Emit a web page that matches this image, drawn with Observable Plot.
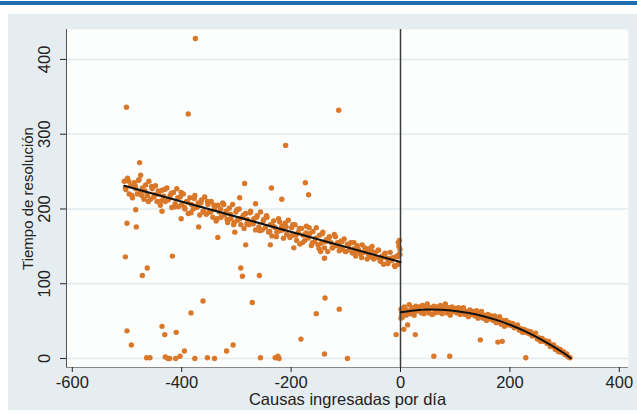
<!DOCTYPE html>
<html>
<head>
<meta charset="utf-8">
<script src="https://cdn.jsdelivr.net/npm/d3@7"></script>
<script src="https://cdn.jsdelivr.net/npm/@observablehq/plot@0.6"></script>
<style>
  html, body { margin: 0; padding: 0; background: #ffffff; }
  body { width: 637px; height: 414px; position: relative; overflow: hidden; font-family: "Liberation Sans", Arial, sans-serif; }
  #topbar { position: absolute; left: 0; top: 1px; width: 637px; height: 4px; background: #1d6db0; }
  #chart { position: absolute; left: 8px; top: 14px; }
  #chart g[aria-label="y-axis label"] text { font-size: 15px; }
</style>
</head>
<body>
<div id="topbar"></div>
<div id="chart"></div>
<script>
// ---- data ----
const xTicks = [-600, -400, -200, 0, 200, 400];
const yTicks = [0, 100, 200, 300, 400];
const xDomain = [-610.6, 416.8];
const yDomain = [-12, 440];
const xTitle = "Causas ingresadas por día";
const yTitle = "Tiempo de resolución";

// dense band left of the cutoff
const leftBand = [
[-505,237],[-502,226],[-499,241],[-496,220],[-493,231],[-490,215],[-487,235],[-484,227],[-481,220],[-478,239],
[-475,223],[-472,228],[-469,213],[-466,232],[-463,218],[-460,237],[-457,213],[-454,227],[-451,216],[-448,231],
[-445,210],[-442,220],[-439,205],[-436,225],[-433,217],[-430,210],[-427,228],[-424,213],[-421,218],[-418,202],
[-415,222],[-412,207],[-409,227],[-406,203],[-403,216],[-400,206],[-397,220],[-394,200],[-391,210],[-388,194],
[-385,215],[-382,206],[-379,200],[-376,218],[-373,202],[-370,208],[-367,192],[-364,212],[-361,197],[-358,216],
[-355,193],[-352,206],[-349,196],[-346,210],[-343,189],[-340,200],[-337,184],[-334,205],[-331,196],[-328,189],
[-325,208],[-322,192],[-319,197],[-316,182],[-313,201],[-310,187],[-307,206],[-304,182],[-301,196],[-298,185],
[-295,200],[-292,179],[-289,189],[-286,174],[-283,194],[-280,186],[-277,179],[-274,197],[-271,182],[-268,187],
[-265,172],[-262,191],[-259,176],[-256,196],[-253,172],[-250,186],[-247,175],[-244,189],[-241,169],[-238,179],
[-235,164],[-232,184],[-229,175],[-226,169],[-223,187],[-220,171],[-217,177],[-214,161],[-211,181],[-208,166],
[-205,185],[-202,162],[-199,175],[-196,165],[-193,179],[-190,158],[-187,169],[-184,153],[-181,174],[-178,165],
[-175,158],[-172,177],[-169,161],[-166,167],[-163,151],[-160,170],[-157,156],[-154,175],[-151,152],[-148,165],
[-145,154],[-142,169],[-139,148],[-136,159],[-133,143],[-130,163],[-127,155],[-124,148],[-121,166],[-118,151],
[-115,155],[-112,144],[-109,157],[-106,146],[-103,160],[-100,143],[-97,153],[-94,145],[-91,155],[-88,141],
[-85,147],[-82,137],[-79,151],[-76,144],[-73,140],[-70,152],[-67,142],[-64,145],[-61,133],[-58,147],
[-55,136],[-52,150],[-49,133],[-46,142],[-43,135],[-40,145],[-37,130],[-34,137],[-31,126],[-28,141],
[-25,134],[-22,130],[-19,142],[-16,131],[-13,135],[-10,123],[-7,137],[-4,126],[-1,139],
[-503,228],[-497,237],[-491,218],[-485,231],[-479,238],[-473,218],[-467,224],[-461,210],[-455,230],[-449,219],
[-443,224],[-437,211],[-431,226],[-425,212],[-419,221],[-413,203],[-407,215],[-401,222],[-395,202],[-389,209],
[-383,195],[-377,214],[-371,203],[-365,208],[-359,196],[-353,210],[-347,196],[-341,205],[-335,187],[-329,200],
[-323,206],[-317,186],[-311,193],[-305,179],[-299,199],[-293,187],[-287,192],[-281,180],[-275,195],[-269,180],
[-263,189],[-257,171],[-251,184],[-245,191],[-239,170],[-233,177],[-227,163],[-221,183],[-215,172],[-209,176],
[-203,164],[-197,179],[-191,165],[-185,174],[-179,155],[-173,168],[-167,175],[-161,155],[-155,161],[-149,147],
[-143,167],[-137,156],[-131,161],[-125,148],[-119,163],[-113,150],[-107,156],[-101,143],[-95,151],[-89,155],
[-83,141],[-77,146],[-71,135],[-65,148],[-59,140],[-53,144],[-47,135],[-41,145],[-35,134],[-29,140],
[-23,127],[-17,134],[-11,124],[-5,136],
[-3,150],[-2,158],[-1,146],[-4,155],[-2,140]
];

// dense band right of the cutoff
const rightBand = [
[1,66],[4,59],[7,69],[10,58],[13,64],[16,72],[19,60],[22,67],[25,58],[28,70],
[31,64],[34,69],[37,62],[40,71],[43,60],[46,66],[49,73],[52,61],[55,68],[58,59],
[61,70],[64,64],[67,69],[70,62],[73,71],[76,60],[79,66],[82,73],[85,61],[88,68],
[91,58],[94,69],[97,63],[100,67],[103,61],[106,68],[109,59],[112,64],[115,68],[118,59],
[121,63],[124,56],[127,65],[130,59],[133,63],[136,57],[139,64],[142,54],[145,59],[148,63],
[151,54],[154,58],[157,51],[160,59],[163,53],[166,57],[169,51],[172,57],[175,48],[178,52],
[181,56],[184,46],[187,51],[190,43],[193,51],[196,45],[199,48],[202,44],[205,47],[208,41],
[211,43],[214,45],[217,38],[220,40],[223,35],[226,39],[229,35],[232,37],[235,33],[238,36],
[241,30],[244,32],[247,34],[250,26],[253,28],[256,23],[259,27],[262,23],[265,24],[268,20],
[271,23],[274,16],[277,18],[280,18],[283,12],[286,14],[289,9],[292,12],[295,8],[298,9],
[301,5],[304,6],[307,2],[310,1],
[3,62],[9,66],[15,60],[21,68],[27,63],[33,67],[39,61],[45,70],[51,64],[57,67],
[63,61],[69,68],[75,63],[81,67],[87,62],[93,66],[105,62],[111,66],[117,60],[123,63],
[135,60],[147,58],[159,56],[171,53],[183,49],[195,46],[207,43],[219,38],[231,36],[243,31],
[255,26],[267,22],[279,16],[291,10],[303,5],[3,55],[2,58]
];

// scattered points away from the bands
const outliers = [
[-375,428],[-501,336],[-388,327],[-477,262],[-475,245],[-285,234],[-113,332],[-210,285],[-236,228],[-174,235],
[-484,199],[-500,181],[-483,176],[-401,187],[-369,176],[-334,162],[-303,169],[-436,197],[-503,136],[-417,137],
[-463,121],[-472,111],[-168,219],[-294,215],[-217,213],[-265,207],[-283,152],[-238,152],[-195,148],[-146,143],
[-139,134],[-85,155],[-292,121],[-289,110],[-258,111],[-361,77],[-383,61],[-500,37],[-492,18],[-436,43],
[-431,32],[-410,35],[-464,1],[-458,1],[-430,2],[-425,0],[-422,0],[-411,0],[-403,3],[-395,10],
[-376,0],[-353,1],[-340,0],[-318,10],[-306,18],[-271,75],[-138,81],[-154,60],[-112,66],[-182,26],
[-256,1],[-229,1],[-224,3],[-222,0],[-139,6],[-97,0],[-8,32],[6,39],[13,45],[1,54],
[27,32],[61,3],[90,3],[146,25],[178,22],[186,23],[229,1]
];

// fitted lines
const leftFit = [[-505,231],[0,129]];
const rightFit = [[0,62],[25,64.3],[50,65.4],[75,65.1],[100,63.7],[125,61],[150,56.9],[175,51.7],[200,45.2],[225,37.4],[250,28.4],[275,18],[300,6.5],[311,0.3]];
const cutoff = [0];

const allPoints = [...leftBand, ...rightBand, ...outliers];
const fmt = d => String(d);

const chart = Plot.plot({
  width: 629,
  height: 396,
  marginLeft: 58,
  marginRight: 9,
  marginTop: 15,
  marginBottom: 43,
  style: { background: "#e6edf0", fontFamily: "'Liberation Sans', Arial, sans-serif", fontSize: "16.5px", color: "#222" },
  x: { domain: xDomain },
  y: { domain: yDomain },
  marks: [
    Plot.frame({ fill: "#fcfdfd", stroke: null }),
    Plot.gridY(yTicks, { stroke: "#e2eaee", strokeOpacity: 1, strokeWidth: 1.5 }),
    Plot.dot(allPoints, { x: d => d[0], y: d => d[1], r: 2.7, fill: "#da782a", stroke: null }),
    Plot.ruleX(cutoff, { stroke: "#3c3c3c", strokeWidth: 1.5 }),
    Plot.line(leftFit, { x: d => d[0], y: d => d[1], stroke: "#111", strokeWidth: 2 }),
    Plot.line(rightFit, { x: d => d[0], y: d => d[1], stroke: "#111", strokeWidth: 2, curve: "natural" }),
    Plot.ruleX([xDomain[0]], { stroke: "#555", strokeWidth: 1 }),
    Plot.ruleY([yDomain[0]], { stroke: "#888", strokeWidth: 1 }),
    Plot.axisY({ ticks: yTicks, tickFormat: fmt, tickSize: 6, tickPadding: 11, tickRotate: -90, fontSize: 16.5,
      label: yTitle, labelAnchor: "center", labelArrow: false, labelOffset: 44 }),
    Plot.axisX({ ticks: xTicks, tickFormat: fmt, tickSize: 5, tickPadding: 4, fontSize: 16.5,
      label: xTitle, labelAnchor: "center", labelArrow: false, labelOffset: 37 })
  ]
});
document.getElementById("chart").appendChild(chart);
</script>
</body>
</html>
